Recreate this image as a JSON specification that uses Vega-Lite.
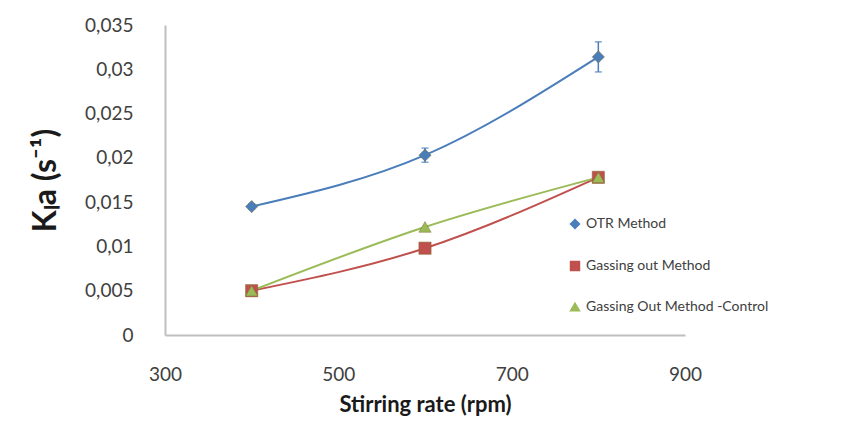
{
  "$schema": "https://vega.github.io/schema/vega-lite/v6.json",
  "width": 520,
  "height": 310,
  "autosize": {"type": "none"},
  "padding": {"left": 165, "top": 25, "right": 159, "bottom": 91},
  "background": "white",
  "config": {"view": {"stroke": null}, "font": "Lato"},
  "data": {
    "values": [
      {"series": "OTR Method", "rpm": 400, "kla": 0.0145, "lo": 0.0142, "hi": 0.0148},
      {"series": "OTR Method", "rpm": 600, "kla": 0.0203, "lo": 0.0195, "hi": 0.0211},
      {"series": "OTR Method", "rpm": 800, "kla": 0.0314, "lo": 0.0297, "hi": 0.0331},
      {"series": "Gassing out Method", "rpm": 400, "kla": 0.005, "lo": 0.005, "hi": 0.005},
      {"series": "Gassing out Method", "rpm": 600, "kla": 0.0098, "lo": 0.0098, "hi": 0.0098},
      {"series": "Gassing out Method", "rpm": 800, "kla": 0.0178, "lo": 0.0178, "hi": 0.0178},
      {"series": "Gassing Out Method -Control", "rpm": 400, "kla": 0.005, "lo": 0.005, "hi": 0.005},
      {"series": "Gassing Out Method -Control", "rpm": 600, "kla": 0.0122, "lo": 0.0122, "hi": 0.0122},
      {"series": "Gassing Out Method -Control", "rpm": 800, "kla": 0.0178, "lo": 0.0178, "hi": 0.0178}
    ]
  },
  "encoding": {
    "x": {
      "field": "rpm", "type": "quantitative",
      "scale": {"domain": [300, 900], "nice": false, "zero": false},
      "axis": {
        "values": [300, 500, 700, 900], "grid": false, "ticks": false, "labelFlush": false,
        "domainColor": "#BFBFBF", "domainWidth": 2,
        "labelFontSize": 19, "labelColor": "#404040", "labelPadding": 30,
        "title": "Stirring rate (rpm)", "titleFontSize": 22, "titleFontWeight": "bold",
        "titleColor": "#1a1a1a", "titlePadding": 10
      }
    },
    "y": {
      "field": "kla", "type": "quantitative",
      "scale": {"domain": [0, 0.035], "nice": false},
      "axis": {
        "values": [0, 0.005, 0.01, 0.015, 0.02, 0.025, 0.03, 0.035], "grid": false, "ticks": false,
        "domainColor": "#BFBFBF", "domainWidth": 2,
        "labelFontSize": 19, "labelColor": "#404040", "labelPadding": 32,
        "labelExpr": "replace(format(datum.value, '~f'), '.', ',')",
        "title": "Kₗa (s⁻¹)", "titleFontSize": 32, "titleFontWeight": "bold",
        "titleColor": "#1a1a1a", "titlePadding": 22
      }
    },
    "color": {
      "field": "series", "type": "nominal",
      "scale": {
        "domain": ["OTR Method", "Gassing out Method", "Gassing Out Method -Control"],
        "range": ["#4A7EBB", "#C0504D", "#9BBB59"]
      },
      "legend": {
        "title": null, "orient": "none", "legendX": 403, "legendY": 192,
        "labelFontSize": 14, "labelColor": "#404040", "rowPadding": 26, "symbolSize": 80,
        "symbolOpacity": 1, "labelLimit": 400
      }
    }
  },
  "layer": [
    {
      "mark": {"type": "rule", "strokeWidth": 1.5},
      "encoding": {"y": {"field": "lo", "type": "quantitative"}, "y2": {"field": "hi"}}
    },
    {
      "transform": [{"filter": "datum.series === 'OTR Method'"}],
      "mark": {"type": "tick", "orient": "horizontal", "size": 7, "thickness": 1.5},
      "encoding": {"y": {"field": "lo", "type": "quantitative"}}
    },
    {
      "transform": [{"filter": "datum.series === 'OTR Method'"}],
      "mark": {"type": "tick", "orient": "horizontal", "size": 7, "thickness": 1.5},
      "encoding": {"y": {"field": "hi", "type": "quantitative"}}
    },
    {
      "mark": {"type": "line", "interpolate": "monotone", "strokeWidth": 2}
    },
    {
      "mark": {"type": "point", "filled": true, "opacity": 1, "stroke": "#7f6a2a", "strokeWidth": 0.5},
      "encoding": {
        "shape": {
          "field": "series", "type": "nominal",
          "scale": {
            "domain": ["OTR Method", "Gassing out Method", "Gassing Out Method -Control"],
            "range": ["diamond", "square", "triangle-up"]
          },
          "legend": {
            "title": null, "orient": "none", "legendX": 403, "legendY": 192,
            "labelFontSize": 14, "labelColor": "#404040", "rowPadding": 26, "symbolSize": 80,
            "symbolOpacity": 1, "labelLimit": 400
          }
        },
        "size": {"value": 150}
      }
    }
  ]
}
